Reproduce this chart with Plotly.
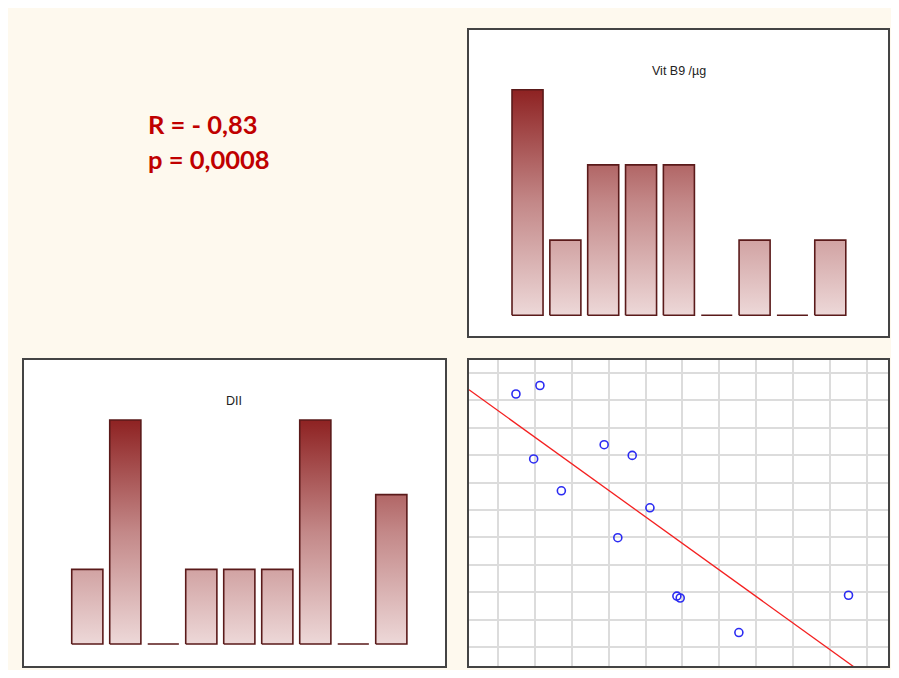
import numpy as np
import plotly.graph_objects as go

# ---------------- data ----------------
categories = list(range(1, 10))
vit_b9 = [3, 1, 2, 2, 2, 0, 1, 0, 1]
dii = [1, 3, 0, 1, 1, 1, 3, 0, 2]
scatter_x = [1.49, 2.14, 1.97, 2.72, 3.88, 4.64, 5.12, 4.25, 5.85, 5.94, 7.53, 10.50]
scatter_y = [9.23, 9.54, 6.86, 5.70, 7.38, 6.99, 5.08, 3.99, 1.86, 1.79, 0.53, 1.89]
title_b9 = "Vit B9 /µg"
title_dii = "DII"
stat_lines = ["R = - 0,83", "p = 0,0008"]

# ---------------- layout helpers ----------------
W, H = 891, 662
OFF = 8  # page offset of the figure inside the browser window


def px(x):
    return (x - OFF) / W


def py(y):
    return 1 - (y - OFF) / H


BAR_W = 0.82
GRAD = [[0, "#EDD8D8"], [0.5, "#C38888"], [1, "#8E2222"]]
EDGE = "#5A1A1A"


def bar_path(values, width):
    xs, ys = [], []
    for i, v in enumerate(values):
        x0, x1 = i - width / 2, i + width / 2
        xs += [x0, x1, x1, x0, x0, None]
        ys += [0, 0, v, v, 0, None]
    return xs, ys


fig = go.Figure()

for vals, xa, ya in [(vit_b9, "x", "y"), (dii, "x2", "y2")]:
    xs, ys = bar_path(vals, BAR_W)
    fig.add_trace(go.Scatter(
        x=xs, y=ys, mode="lines", fill="toself",
        fillgradient=dict(type="vertical", colorscale=GRAD, start=0, stop=max(vals)),
        line=dict(color=EDGE, width=1.6),
        xaxis=xa, yaxis=ya, showlegend=False, hoverinfo="skip",
    ))

# scatter + regression
sx = np.array(scatter_x)
sy = np.array(scatter_y)
slope, intercept = np.polyfit(sx, sy, 1)
x3_range = [0.218, 11.57]
y3_range = [-0.69, 10.47]
lx = np.array(x3_range)
fig.add_trace(go.Scatter(
    x=lx, y=slope * lx + intercept, mode="lines",
    line=dict(color="#F42020", width=1.3),
    xaxis="x3", yaxis="y3", showlegend=False, hoverinfo="skip",
))
fig.add_trace(go.Scatter(
    x=sx, y=sy, mode="markers",
    marker=dict(symbol="circle-open", size=8, color="#2B2BF2", line=dict(width=1.6)),
    xaxis="x3", yaxis="y3", showlegend=False,
))

# panels
panels = [(468, 29, 889, 337), (23, 359, 446, 667), (468, 359, 889, 667)]
shapes = []
for (x0, y0, x1, y1) in panels:
    shapes.append(dict(type="rect", xref="paper", yref="paper",
                       x0=px(x0), x1=px(x1), y0=py(y1), y1=py(y0),
                       fillcolor="white", line=dict(width=0), layer="below"))
    shapes.append(dict(type="rect", xref="paper", yref="paper",
                       x0=px(x0), x1=px(x1), y0=py(y1), y1=py(y0),
                       fillcolor="rgba(0,0,0,0)", line=dict(color="#444444", width=2), layer="above"))

bar_yrange = [-0.15, 3.25]
hidden = dict(showgrid=False, zeroline=False, showticklabels=False, ticks="", showline=False)

tr_unit = 75.2
bl_unit = 74.67
fig.update_layout(
    width=W, height=H,
    margin=dict(l=0, r=0, t=0, b=0),
    paper_bgcolor="#FEF9EE",
    plot_bgcolor="rgba(0,0,0,0)",
    shapes=shapes,
    xaxis=dict(domain=[px(508.6), px(849.2)], range=[-0.5, 8.5], anchor="y", **hidden),
    yaxis=dict(domain=[py(315.3 - bar_yrange[0] * tr_unit), py(315.3 - bar_yrange[1] * tr_unit)],
               range=bar_yrange, anchor="x", **hidden),
    xaxis2=dict(domain=[px(68.3), px(410.3)], range=[-0.5, 8.5], anchor="y2", **hidden),
    yaxis2=dict(domain=[py(644 - bar_yrange[0] * bl_unit), py(644 - bar_yrange[1] * bl_unit)],
                range=bar_yrange, anchor="x2", **hidden),
    xaxis3=dict(domain=[px(469), px(888)], range=x3_range, anchor="y3",
                showgrid=True, gridcolor="#DCDCDC", gridwidth=1.5, dtick=1, tick0=0,
                zeroline=False, showticklabels=False, ticks="", showline=False),
    yaxis3=dict(domain=[py(666), py(360)], range=y3_range, anchor="x3",
                showgrid=True, gridcolor="#DCDCDC", gridwidth=1.5, dtick=1, tick0=0,
                zeroline=False, showticklabels=False, ticks="", showline=False),
    annotations=[
        dict(text=title_b9, xref="paper", yref="paper", x=px(679), y=py(71),
             xanchor="center", yanchor="middle", showarrow=False,
             font=dict(family="Liberation Sans", size=12.5, color="#222222")),
        dict(text=title_dii, xref="paper", yref="paper", x=px(234), y=py(401),
             xanchor="center", yanchor="middle", showarrow=False,
             font=dict(family="Liberation Sans", size=12.5, color="#222222")),
        dict(text=f"<b>{stat_lines[0]}</b>", xref="paper", yref="paper", x=px(146), y=py(124),
             xanchor="left", yanchor="middle", showarrow=False,
             font=dict(family="Lato", size=25.5, color="#C00000")),
        dict(text=f"<b>{stat_lines[1]}</b>", xref="paper", yref="paper", x=px(146), y=py(159),
             xanchor="left", yanchor="middle", showarrow=False,
             font=dict(family="Lato", size=25.5, color="#C00000")),
    ],
)

fig.write_html("out.html")
